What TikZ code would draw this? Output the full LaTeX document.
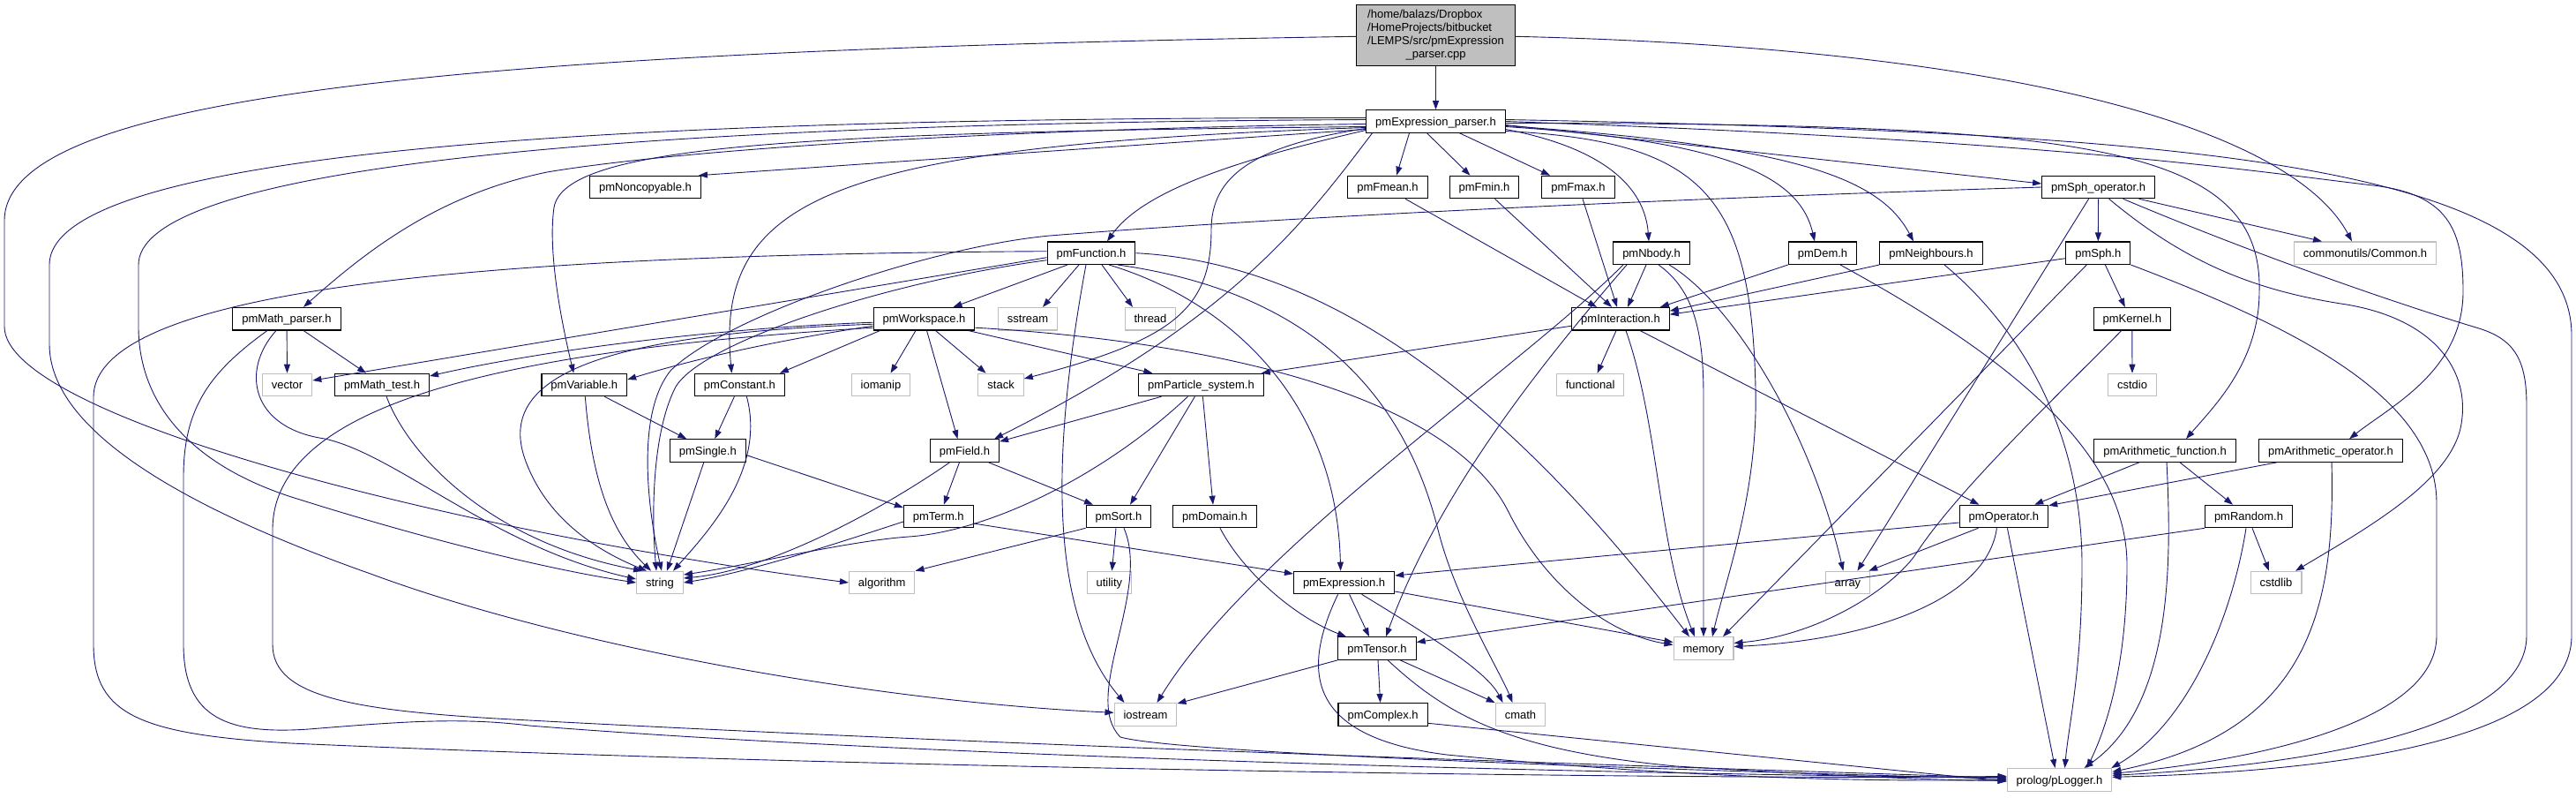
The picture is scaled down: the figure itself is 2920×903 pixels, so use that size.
\documentclass[tikz,border=0pt]{standalone}
\usepackage{fontspec}
\setmainfont{Liberation Sans}
\usetikzlibrary{arrows.meta}
\definecolor{edgec}{HTML}{191970}
\definecolor{gline}{HTML}{BFBFBF}
\definecolor{cppfill}{HTML}{BFBFBF}
\newcommand\nfs{\fontsize{13}{14.9}\selectfont}
\begin{document}
\begin{tikzpicture}[x=1pt,y=-1pt,
 box/.style={draw=black,line width=1.1pt,fill=white,minimum height=25.5pt,inner xsep=10.5pt,inner ysep=0pt,text height=9.4pt,text depth=0pt,font=\nfs},
 gbox/.style={box,draw=gline},
 lnk/.style={draw=edgec,line width=0.9pt,-{Triangle[length=10pt,width=7pt]}}]
\useasboundingbox (0,0) rectangle (2920,903);
% ---------- nodes
\node[draw=black,line width=1.1pt,fill=cppfill,minimum width=180pt,minimum height=69pt,inner sep=0pt,font=\nfs] (cpp) at (1627.5,40.3) {\begin{tabular}{@{}l@{}}/home/balazs/Dropbox\\/HomeProjects/bitbucket\\/LEMPS/src/pmExpression\\\multicolumn{1}{@{}c@{}}{\_parser.cpp}\end{tabular}};
\node[box] (pep) at (1627.5,137.5) {pmExpression\_parser.h};
\node[box] (nonc) at (731.5,212) {pmNoncopyable.h};
\node[box] (fmean) at (1573,212) {pmFmean.h};
\node[box] (fmin) at (1682.5,212) {pmFmin.h};
\node[box] (fmax) at (1789,212) {pmFmax.h};
\node[box] (sphop) at (2378.6,212) {pmSph\_operator.h};
\node[box] (func) at (1237,286.7) {pmFunction.h};
\node[box] (nbody) at (1872,286.7) {pmNbody.h};
\node[box] (dem) at (2066,286.7) {pmDem.h};
\node[box] (neigh) at (2189,286.7) {pmNeighbours.h};
\node[box] (sph) at (2378.3,286.7) {pmSph.h};
\node[gbox] (common) at (2681,286.7) {commonutils/Common.h};
\node[box] (mathp) at (325,361.2) {pmMath\_parser.h};
\node[box] (work) at (1047.5,361.2) {pmWorkspace.h};
\node[gbox] (sstream) at (1165,361.2) {sstream};
\node[gbox] (thread) at (1304,361.2) {thread};
\node[box] (inter) at (1837,361.2) {pmInteraction.h};
\node[box] (kernel) at (2416.8,361.2) {pmKernel.h};
\node[gbox] (vector) at (325.6,436) {vector};
\node[box] (mtest) at (433,436) {pmMath\_test.h};
\node[box] (var) at (662.3,436) {pmVariable.h};
\node[box] (const) at (838.4,436) {pmConstant.h};
\node[gbox] (iomanip) at (998.5,436) {iomanip};
\node[gbox] (stack) at (1134.6,436) {stack};
\node[box] (psys) at (1361.4,436) {pmParticle\_system.h};
\node[gbox] (functional) at (1802.6,436) {functional};
\node[gbox] (cstdio) at (2417,436) {cstdio};
\node[box] (single) at (802.3,510.5) {pmSingle.h};
\node[box] (field) at (1093.5,510.5) {pmField.h};
\node[box] (afunc) at (2454,510.5) {pmArithmetic\_function.h};
\node[box] (aop) at (2642,510.5) {pmArithmetic\_operator.h};
\node[box] (term) at (1063.8,585) {pmTerm.h};
\node[box] (sort) at (1268,585) {pmSort.h};
\node[box] (domain) at (1377,585) {pmDomain.h};
\node[box] (op) at (2271.4,585) {pmOperator.h};
\node[box] (random) at (2549,585) {pmRandom.h};
\node[gbox] (string) at (748,660) {string};
\node[gbox] (algorithm) at (999.7,660) {algorithm};
\node[gbox] (utility) at (1257.4,660) {utility};
\node[box] (expr) at (1523.6,660) {pmExpression.h};
\node[gbox] (array) at (2094.4,660) {array};
\node[gbox] (cstdlib) at (2580,660) {cstdlib};
\node[box] (tensor) at (1561,734.5) {pmTensor.h};
\node[gbox] (memory) at (1931,734.5) {memory};
\node[gbox] (iostream) at (1298.5,809.3) {iostream};
\node[box] (complex) at (1567.6,809.3) {pmComplex.h};
\node[gbox] (cmath) at (1723.5,809.3) {cmath};
\node[gbox] (plogger) at (2334.5,883.3) {prolog/pLogger.h};
% ---------- cpp
\draw[lnk] (cpp) -- (pep);
\draw[lnk] ([yshift=-1pt]cpp.east) .. controls (2300,55) and (2600,150) .. ([xshift=-15pt]common.north);
\draw[lnk] ([yshift=-1pt]cpp.west) .. controls (500,58) and (5,110) .. (5,250) -- (5,370) .. controls (5,470) and (500,600) .. (algorithm.west);
% ---------- pmExpression_parser.h
\draw[lnk] ([yshift=-9pt]pep.west) -- ([xshift=-3pt]nonc.north east);
\draw[lnk] ([xshift=-30pt]pep.south) -- ([xshift=10pt]fmean.north);
\draw[lnk] ([xshift=-10pt]pep.south) -- ([xshift=-16pt]fmin.north);
\draw[lnk] ([xshift=27pt]pep.south) -- ([xshift=-32pt]fmax.north);
\draw[lnk] ([yshift=-10pt]pep.west) .. controls (1430,175) and (1300,210) .. ([xshift=18pt]func.north);
\draw[lnk] ([yshift=-9pt]pep.east) .. controls (1830,170) and (1865,220) .. ([xshift=-3pt]nbody.north);
\draw[lnk] ([yshift=-6pt]pep.east) .. controls (1960,160) and (2040,200) .. ([xshift=-9pt]dem.north);
\draw[lnk] ([yshift=-5pt]pep.east) .. controls (2030,165) and (2130,200) .. ([xshift=-20pt]neigh.north);
\draw[lnk] ([yshift=-4pt]pep.east) -- ([yshift=4pt]sphop.west);
\draw[lnk] ([yshift=-3pt]pep.west) .. controls (1200,145) and (800,165) .. (620,195) .. controls (500,220) and (420,280) .. ([xshift=19pt]mathp.north);
\draw[lnk] ([yshift=-6pt]pep.west) .. controls (900,150) and (640,165) .. (628,235) .. controls (620,290) and (640,380) .. ([xshift=-12pt]var.north);
\draw[lnk] ([yshift=-7pt]pep.west) .. controls (950,165) and (810,220) .. ([xshift=-9pt]const.north);
\draw[lnk] ([yshift=-8pt]pep.west) .. controls (1420,165) and (1373,200) .. (1373,260) .. controls (1373,350) and (1330,385) .. ([yshift=7pt]stack.east);
\draw[lnk] ([xshift=-72pt]pep.south) .. controls (1480,250) and (1400,360) .. ([xshift=-6pt]field.north east);
\draw[lnk] ([yshift=-11pt]pep.east) .. controls (1930,160) and (1985,220) .. (1990,440) .. controls (1993,560) and (1955,660) .. ([xshift=10pt]memory.north);
\draw[lnk] ([yshift=-2pt]pep.east) .. controls (2350,140) and (2565,160) .. (2561,330) .. controls (2561,410) and (2510,460) .. ([xshift=24pt]afunc.north);
\draw[lnk] (pep.east) .. controls (2350,160) and (2560,195) .. (2690,210) .. controls (2775,220) and (2792,260) .. (2792,330) .. controls (2792,420) and (2710,460) .. ([xshift=21pt]aop.north);
\draw[lnk] ([yshift=2pt]pep.east) .. controls (2450,150) and (2915,180) .. (2915,380) -- (2915,720) .. controls (2915,850) and (2600,875) .. ([yshift=3pt]plogger.east);
\draw[lnk] ([yshift=4pt]pep.west) .. controls (700,133) and (56,170) .. (56,300) -- (56,390) .. controls (56,500) and (250,590) .. (420,650) .. controls (650,735) and (1000,795) .. ([yshift=2pt]iostream.west);
\draw[lnk] ([yshift=2pt]pep.west) .. controls (600,140) and (157,200) .. (157,300) -- (157,370) .. controls (157,460) and (220,530) .. (340,566) .. controls (480,610) and (620,645) .. (string.west);
% ---------- pmFunction.h
\draw[lnk] ([xshift=-27pt]func.south) -- ([xshift=33pt]work.north);
\draw[lnk] ([xshift=-14pt]func.south) -- ([xshift=17pt]sstream.north);
\draw[lnk] ([xshift=12pt]func.south) -- ([xshift=-20pt]thread.north);
\draw[lnk] ([xshift=-6pt]func.south) .. controls (1194,500) and (1185,690) .. ([xshift=-24pt]iostream.north);
\draw[lnk] ([xshift=20pt]func.south) .. controls (1390,340) and (1515,450) .. ([xshift=-4pt]expr.north);
\draw[lnk] ([xshift=30pt]func.south) .. controls (1480,330) and (1590,440) .. (1630,600) .. controls (1650,680) and (1700,760) .. ([xshift=-9pt]cmath.north);
\draw[lnk] (func.east) .. controls (1550,300) and (1760,520) .. ([xshift=-16pt]memory.north);
\draw[lnk] ([yshift=-5pt]func.west) -- ([yshift=5pt]vector.east);
\draw[lnk] ([yshift=-8pt]func.west) .. controls (1000,320) and (790,390) .. (765,440) .. controls (740,490) and (738,580) .. ([xshift=-4pt]string.north);
\draw[lnk] ([yshift=2pt]func.west) .. controls (600,288) and (106,320) .. (106,450) -- (106,730) .. controls (106,810) and (160,832) .. (330,842) .. controls (1000,872) and (2000,884) .. ([yshift=4pt]plogger.west);
% ---------- pmMath_parser.h
\draw[lnk] (mathp) -- (vector);
\draw[lnk] ([xshift=19pt]mathp.south) -- ([xshift=-18pt]mtest.north);
\draw[lnk] ([xshift=-12pt]mathp.south) .. controls (272,420) and (285,485) .. (368,497) .. controls (450,515) and (560,620) .. ([yshift=4pt]string.west);
\draw[lnk] ([xshift=-22pt]mathp.south) .. controls (240,420) and (208,460) .. (208,540) -- (208,730) .. controls (208,815) and (260,832) .. (350,826) .. controls (450,818) and (520,812) .. (600,822) .. controls (1100,862) and (2000,880) .. ([yshift=3pt]plogger.west);
\draw[lnk] (mtest) .. controls (465,520) and (560,615) .. ([xshift=-20pt]string.north);
% ---------- pmVariable / pmConstant / pmSingle
\draw[lnk] (var) .. controls (672,560) and (700,610) .. ([xshift=-10pt]string.north);
\draw[lnk] ([xshift=23pt]var.south) -- ([xshift=-24pt]single.north);
\draw[lnk] ([xshift=-6pt]const.south) -- ([xshift=8pt]single.north);
\draw[lnk] ([xshift=8pt]const.south) .. controls (868,530) and (805,600) .. ([xshift=15pt]string.north);
\draw[lnk] (single) -- ([xshift=8pt]string.north);
\draw[lnk] ([yshift=-5pt]single.east) -- ([yshift=10pt]term.west);
% ---------- pmWorkspace.h
\draw[lnk] ([yshift=-4pt]work.west) .. controls (800,372) and (600,400) .. ([yshift=10pt]mtest.east);
\draw[lnk] ([yshift=-8pt]work.west) .. controls (850,390) and (760,415) .. ([yshift=6pt]var.east);
\draw[lnk] ([xshift=8pt]work.south west) -- ([xshift=-6pt]const.north east);
\draw[lnk] ([xshift=-9.5pt]work.south) -- ([xshift=11pt]iomanip.north);
\draw[lnk] ([xshift=13pt]work.south) -- ([xshift=-17pt]stack.north);
\draw[lnk] ([xshift=3pt]work.south) -- ([xshift=-8pt]field.north);
\draw[lnk] ([xshift=50pt]work.south) -- ([xshift=-55pt]psys.north);
\draw[lnk] ([yshift=-6pt]work.west) .. controls (700,378) and (560,420) .. (595,520) .. controls (620,590) and (680,625) .. ([xshift=-15pt]string.north);
\draw[lnk] ([yshift=-10pt]work.west) .. controls (600,395) and (309,450) .. (309,600) -- (309,730) .. controls (309,790) and (400,806) .. (600,816) .. controls (1200,848) and (2000,872) .. ([yshift=2pt]plogger.west);
\draw[lnk] ([yshift=-10pt]work.east) .. controls (1350,385) and (1640,440) .. (1710,580) .. controls (1750,660) and (1820,718) .. ([yshift=4pt]memory.west);
% ---------- pmParticle_system.h
\draw[lnk] ([xshift=-45pt]psys.south) -- ([yshift=-3pt]field.north east);
\draw[lnk] ([xshift=-7pt]psys.south) -- ([xshift=13pt]sort.north);
\draw[lnk] ([xshift=2pt]psys.south) -- ([xshift=-2pt]domain.north);
\draw[lnk] ([xshift=-15pt]psys.south) .. controls (1250,540) and (1120,602) .. (1030,608) .. controls (960,613) and (850,640) .. ([yshift=9pt]string.east);
% ---------- pmInteraction.h
\draw[lnk] ([yshift=-8pt]inter.west) -- ([xshift=-3pt]psys.north east);
\draw[lnk] ([xshift=-5pt]inter.south) -- ([xshift=8pt]functional.north);
\draw[lnk] ([xshift=6pt]inter.south) .. controls (1880,480) and (1880,620) .. ([xshift=-10pt]memory.north);
\draw[lnk] ([xshift=22pt]inter.south) -- ([xshift=-28pt]op.north);
% ---------- pmNbody.h
\draw[lnk] ([xshift=-6pt]nbody.south) -- ([xshift=8pt]inter.north);
\draw[lnk] ([xshift=8pt]nbody.south) .. controls (1922,330) and (1931,380) .. (1931,450) -- (memory.north);
\draw[lnk] ([xshift=20pt]nbody.south) .. controls (1960,340) and (2050,480) .. ([xshift=-5pt]array.north);
\draw[lnk] ([xshift=-32pt]nbody.south) .. controls (1720,420) and (1420,620) .. ([xshift=13pt]iostream.north);
\draw[lnk] ([xshift=-28pt]nbody.south) .. controls (1740,420) and (1630,560) .. ([xshift=10pt]tensor.north);
% ---------- small function headers
\draw[lnk] ([xshift=20pt]fmean.south) -- ([xshift=-27pt]inter.north);
\draw[lnk] ([xshift=12pt]fmin.south) -- ([xshift=-10pt]inter.north);
\draw[lnk] ([xshift=5pt]fmax.south) -- ([xshift=-4pt]inter.north);
\draw[lnk] (dem.south west) -- ([xshift=-11pt]inter.north east);
\draw[lnk] (neigh.south west) -- ([yshift=9pt]inter.east);
\draw[lnk] ([yshift=-6pt]sph.west) -- ([yshift=5pt]inter.east);
\draw[lnk] ([xshift=20pt]dem.south) .. controls (2250,390) and (2411,500) .. (2411,640) .. controls (2411,760) and (2385,830) .. ([xshift=31pt]plogger.north);
\draw[lnk] ([xshift=15pt]neigh.south) .. controls (2300,380) and (2360,500) .. (2360,640) .. controls (2360,760) and (2345,820) .. ([xshift=6pt]plogger.north);
% ---------- pmSph_operator.h
\draw[lnk] (sphop) -- (sph);
\draw[lnk] ([xshift=46pt]sphop.south) -- ([xshift=-49pt]common.north);
\draw[lnk] (sphop.west) .. controls (1800,228) and (1400,250) .. (1190,267) .. controls (1050,280) and (820,360) .. (760,420) .. controls (720,470) and (735,580) .. ([xshift=2pt]string.north);
\draw[lnk] ([xshift=-11pt]sphop.south) -- ([xshift=11pt]array.north);
\draw[lnk] ([xshift=12pt]sphop.south) .. controls (2480,300) and (2560,330) .. (2660,345) .. controls (2760,362) and (2800,420) .. (2790,480) .. controls (2780,545) and (2680,600) .. ([xshift=22pt]cstdlib.north);
\draw[lnk] ([xshift=28pt]sphop.south) .. controls (2560,290) and (2720,345) .. (2810,372) .. controls (2852,385) and (2864,410) .. (2864,460) -- (2864,720) .. controls (2864,830) and (2600,868) .. ([yshift=5pt]plogger.east);
% ---------- pmSph.h
\draw[lnk] ([xshift=8pt]sph.south) -- ([xshift=-8pt]kernel.north);
\draw[lnk] ([xshift=-13pt]sph.south) -- ([xshift=22pt]memory.north);
\draw[lnk] (sph.south east) .. controls (2600,370) and (2762,450) .. (2762,570) -- (2762,720) .. controls (2762,820) and (2550,862) .. ([yshift=7pt]plogger.east);
% ---------- pmKernel.h
\draw[lnk] (kernel) -- (cstdio);
\draw[lnk] ([xshift=-12pt]kernel.south) .. controls (2320,460) and (2215,560) .. (2170,630) .. controls (2140,670) and (2060,720) .. ([yshift=6pt]memory.east);
% ---------- pmOperator.h
\draw[lnk] ([yshift=-7pt]op.west) -- ([yshift=8pt]expr.east);
\draw[lnk] ([xshift=-29pt]op.south) -- ([xshift=-2pt]array.north east);
\draw[lnk] ([xshift=-8pt]op.south) .. controls (2252,680) and (2120,725) .. ([yshift=2pt]memory.east);
\draw[lnk] ([xshift=4pt]op.south) -- ([xshift=-5pt]plogger.north);
% ---------- arithmetic headers
\draw[lnk] ([xshift=-29pt]afunc.south) -- ([xshift=-16pt]op.north east);
\draw[lnk] ([xshift=17pt]afunc.south) -- ([xshift=-18pt]random.north);
\draw[lnk] ([xshift=2pt]afunc.south) .. controls (2462,640) and (2462,800) .. ([xshift=28pt]plogger.north);
\draw[lnk] ([xshift=-61pt]aop.south) -- ([yshift=-1pt]op.north east);
\draw[lnk] ([xshift=1pt]aop.south) .. controls (2648,700) and (2610,830) .. ([yshift=9pt]plogger.east);
% ---------- pmRandom.h
\draw[lnk] ([xshift=4pt]random.south) -- ([xshift=-8pt]cstdlib.north);
\draw[lnk] (random.south west) -- ([yshift=7pt]tensor.east);
\draw[lnk] ([xshift=-3pt]random.south) .. controls (2530,700) and (2480,820) .. ([xshift=-1pt]plogger.north east);
% ---------- pmExpression.h
\draw[lnk] ([xshift=6pt]expr.south) -- ([xshift=-9pt]tensor.north);
\draw[lnk] ([xshift=20pt]expr.south) .. controls (1620,720) and (1685,760) .. ([xshift=-20pt]cmath.north);
\draw[lnk] ([yshift=-10pt]expr.east) -- ([yshift=7pt]memory.west);
\draw[lnk] ([xshift=-7pt]expr.south) .. controls (1475,760) and (1480,835) .. (1640,855) .. controls (1900,880) and (2100,886) .. ([yshift=0pt]plogger.west);
% ---------- pmTensor.h
\draw[lnk] (tensor.south west) -- ([yshift=-1pt]iostream.north east);
\draw[lnk] ([xshift=1pt]tensor.south) -- ([xshift=-3pt]complex.north);
\draw[lnk] ([xshift=26pt]tensor.south) -- (cmath.north west);
\draw[lnk] ([xshift=12pt]tensor.south) .. controls (1640,810) and (1710,850) .. (1900,868) .. controls (2100,880) and (2200,884) .. ([yshift=-1pt]plogger.west);
\draw[lnk] ([yshift=-10pt]complex.east) -- ([yshift=-2pt]plogger.west);
% ---------- pmTerm.h / pmField.h / pmSort.h / pmDomain.h
\draw[lnk] ([yshift=-8pt]term.east) -- ([yshift=10pt]expr.west);
\draw[lnk] ([yshift=-6pt]term.west) .. controls (950,615) and (850,648) .. (string.east);
\draw[lnk] ([xshift=-6pt]field.south) -- ([xshift=6pt]term.north);
\draw[lnk] ([xshift=27pt]field.south) -- ([xshift=-29pt]sort.north);
\draw[lnk] ([xshift=-17pt]field.south) .. controls (1010,570) and (880,645) .. ([yshift=5pt]string.east);
\draw[lnk] ([xshift=-3pt]sort.south) -- ([xshift=3pt]utility.north);
\draw[lnk] (sort.south west) -- (algorithm.north east);
\draw[lnk] ([xshift=6pt]sort.south) .. controls (1305,670) and (1225,790) .. (1270,835) .. controls (1330,852) and (1800,870) .. ([yshift=1pt]plogger.west);
\draw[lnk] ([xshift=6pt]domain.south) .. controls (1410,650) and (1470,700) .. ([xshift=-35pt]tensor.north);
\end{tikzpicture}
\end{document}
